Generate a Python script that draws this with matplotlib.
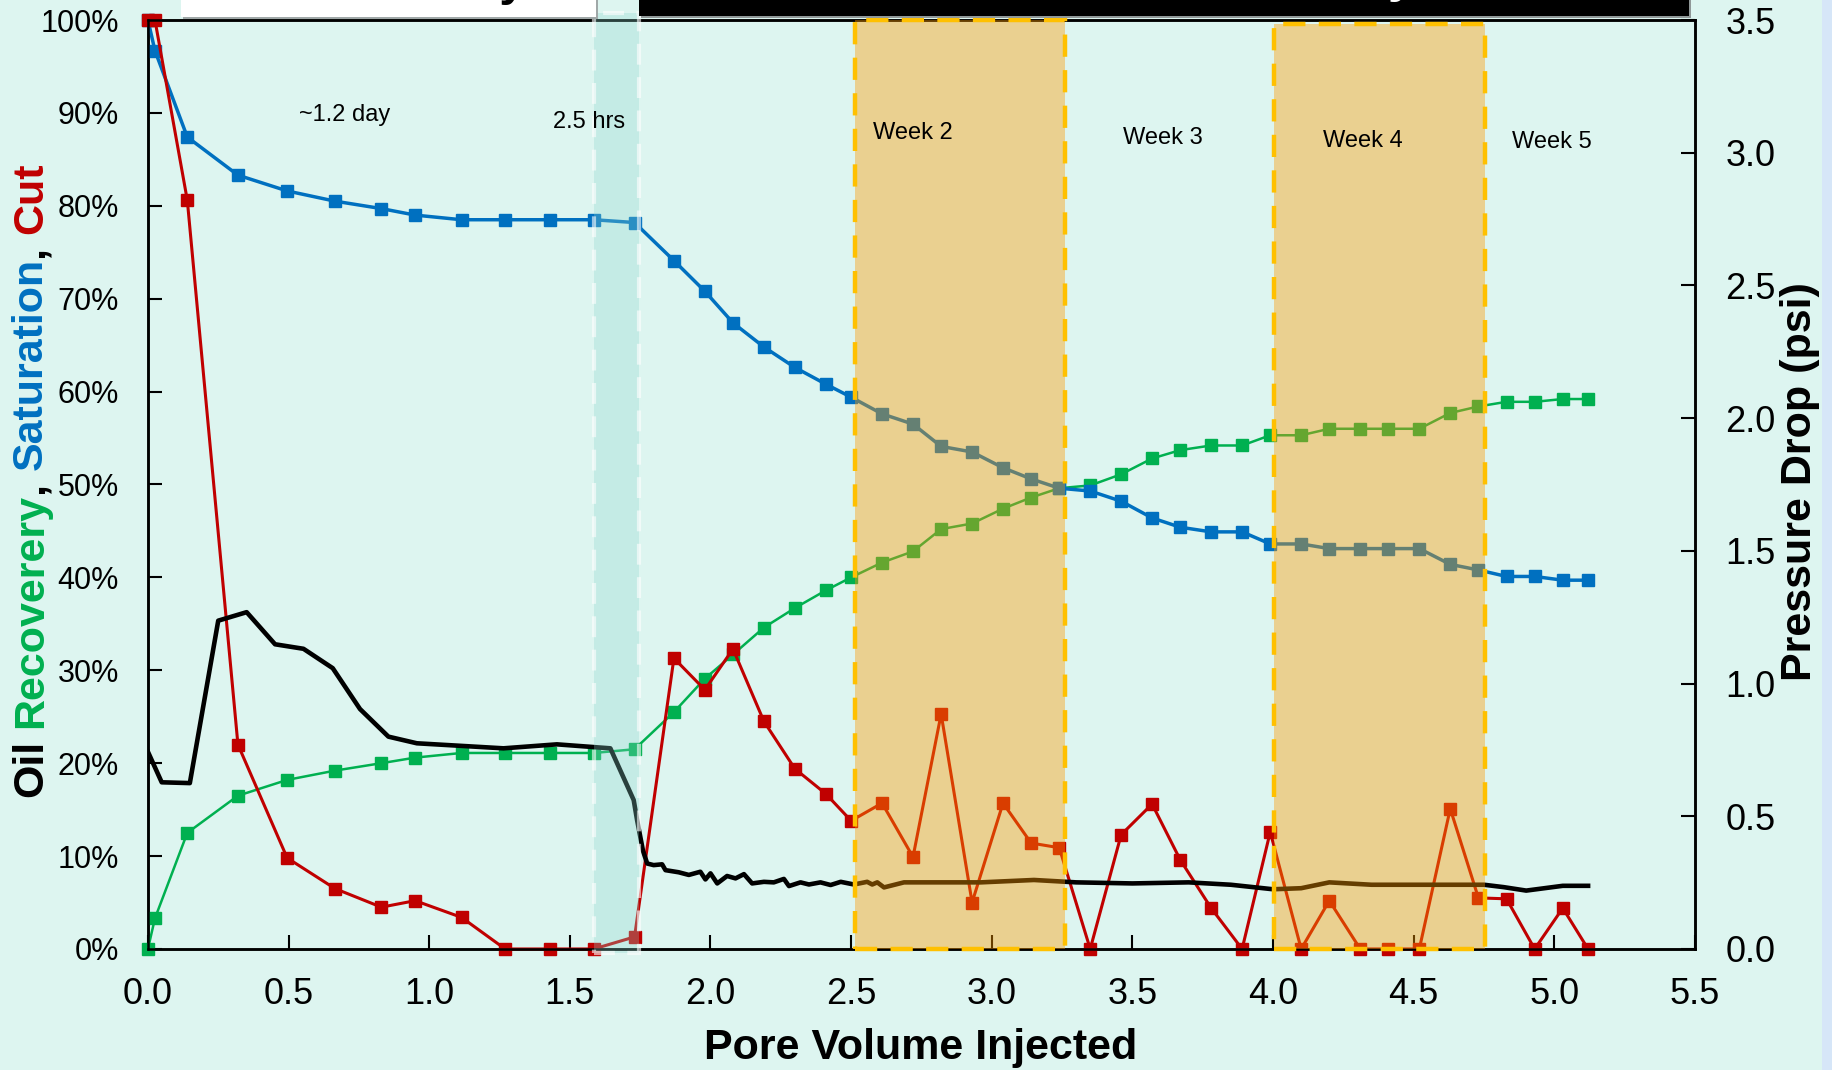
import matplotlib.pyplot as plt
from matplotlib.patches import Rectangle
from matplotlib.ticker import FuncFormatter

plt.rcParams['font.family'] = ['Liberation Sans', 'DejaVu Sans']

# pore volumes injected at each sample
pv = [0.0, 0.025, 0.14, 0.32, 0.495, 0.665, 0.83, 0.95, 1.115, 1.27,
      1.43, 1.585, 1.73, 1.87, 1.98, 2.08, 2.19, 2.30, 2.41, 2.50,
      2.61, 2.72, 2.82, 2.93, 3.04, 3.14, 3.24, 3.35, 3.46, 3.57,
      3.67, 3.78, 3.89, 3.99, 4.10, 4.20, 4.31, 4.41, 4.52, 4.63,
      4.73, 4.83, 4.93, 5.03, 5.12]

# oil saturation (%)
saturation = [100, 96.7, 87.4, 83.3, 81.6, 80.5, 79.7, 79.0, 78.5, 78.5,
              78.5, 78.5, 78.2, 74.1, 70.8, 67.4, 64.8, 62.6, 60.8, 59.4,
              57.6, 56.5, 54.1, 53.5, 51.8, 50.6, 49.6, 49.3, 48.2, 46.4,
              45.4, 44.9, 44.9, 43.6, 43.6, 43.1, 43.1, 43.1, 43.1, 41.4,
              40.8, 40.1, 40.1, 39.7, 39.7]

# oil recovery (%)
recovery = [0, 3.3, 12.5, 16.5, 18.2, 19.2, 20.0, 20.6, 21.1, 21.1,
            21.1, 21.1, 21.5, 25.5, 29.1, 31.7, 34.6, 36.7, 38.6, 40.0,
            41.6, 42.8, 45.2, 45.8, 47.4, 48.6, 49.6, 49.9, 51.1, 52.8,
            53.7, 54.2, 54.2, 55.3, 55.3, 56.0, 56.0, 56.0, 56.0, 57.7,
            58.4, 58.9, 58.9, 59.2, 59.2]

# oil cut (%)
cut = [100, 100, 80.6, 22.0, 9.8, 6.5, 4.5, 5.2, 3.4, 0,
       0, 0, 1.3, 31.3, 27.9, 32.3, 24.5, 19.4, 16.7, 13.8,
       15.7, 9.9, 25.3, 5.0, 15.7, 11.4, 10.9, 0, 12.3, 15.6,
       9.6, 4.4, 0, 12.6, 0, 5.2, 0, 0, 0, 15.1,
       5.5, 5.4, 0, 4.4, 0]

# pressure drop trace (psi)
dp_pv = [0.0, 0.049, 0.149, 0.250, 0.351, 0.452, 0.553, 0.657, 0.754, 0.855,
         0.956, 1.264, 1.454, 1.644, 1.727, 1.739, 1.760, 1.775, 1.798, 1.828,
         1.840, 1.887, 1.923, 1.964, 1.982, 2.000, 2.024, 2.059, 2.089, 2.119,
         2.148, 2.190, 2.225, 2.261, 2.279, 2.320, 2.350, 2.391, 2.427, 2.463,
         2.510, 2.557, 2.575, 2.593, 2.617, 2.688, 2.961, 3.15, 3.30, 3.50,
         3.70, 3.85, 4.00, 4.10, 4.20, 4.35, 4.60, 4.75, 4.82, 4.90,
         5.03, 5.12]
dp = [0.743, 0.628, 0.625, 1.237, 1.269, 1.148, 1.131, 1.058, 0.904, 0.800,
      0.775, 0.756, 0.771, 0.756, 0.561, 0.486, 0.370, 0.322, 0.316, 0.319,
      0.297, 0.289, 0.279, 0.291, 0.262, 0.285, 0.247, 0.275, 0.266, 0.282,
      0.247, 0.253, 0.251, 0.264, 0.237, 0.251, 0.243, 0.251, 0.241, 0.253,
      0.243, 0.253, 0.243, 0.251, 0.232, 0.251, 0.251, 0.260, 0.251, 0.247,
      0.251, 0.242, 0.225, 0.229, 0.251, 0.242, 0.242, 0.242, 0.233, 0.220,
      0.238, 0.238]

# shaded periods
week_spans = [(2.512, 3.26), (4.005, 4.755)]
flush_span = (1.585, 1.747)

xticks = [0.0, 0.5, 1.0, 1.5, 2.0, 2.5, 3.0, 3.5, 4.0, 4.5, 5.0, 5.5]
yticks = [0, 10, 20, 30, 40, 50, 60, 70, 80, 90, 100]
dp_ticks = [0.0, 0.5, 1.0, 1.5, 2.0, 2.5, 3.0, 3.5]

BG = '#DDF5F0'
GREEN = '#00B050'
BLUE = '#0070C0'
RED = '#C00000'
TITLE_FS = 31

fig = plt.figure(figsize=(18.33, 10.70), dpi=100, facecolor=BG)
ax = fig.add_axes([0.0807, 0.1131, 0.8440, 0.8682])
ax.set_facecolor(BG)
ax2 = ax.twinx()

ax.plot(pv, recovery, color=GREEN, lw=1.8, marker='s', ms=8.5, zorder=3, clip_on=False)
ax.plot(pv, saturation, color=BLUE, lw=2.5, marker='s', ms=8.5, zorder=3, clip_on=False)
ax.plot(pv, cut, color=RED, lw=2.2, marker='s', ms=8.5, zorder=4, clip_on=False)
ax2.plot(dp_pv, dp, color='black', lw=3.3, zorder=2)

ax.set_xlim(0, 5.5)
ax.set_ylim(0, 100)
ax2.set_ylim(0, 3.5)
ax.set_xticks(xticks)
ax.set_xticklabels([f'{v:.1f}' for v in xticks])
ax.set_yticks(yticks)
ax.yaxis.set_major_formatter(FuncFormatter(lambda v, p: f'{v:.0f}%'))
ax2.set_yticks(dp_ticks)
ax2.set_yticklabels([f'{v:.1f}' for v in dp_ticks])

ax.tick_params(axis='x', direction='in', length=10, width=1.5, labelsize=26, pad=20)
ax.tick_params(axis='y', direction='in', length=10, width=1.5, labelsize=22, pad=21)
ax2.tick_params(axis='y', direction='in', length=10, width=1.5, labelsize=26, pad=22)
for a in (ax, ax2):
    for s in a.spines.values():
        s.set_linewidth(1.8)

# overlays drawn on top of all the curves
tr = ax2.get_xaxis_transform()
for (x0, x1), top in zip(week_spans, [1.0, 0.996]):
    ax2.add_patch(Rectangle((x0, 0), x1 - x0, top, transform=tr,
                            facecolor=(1.0, 0.6, 0.0, 0.4), edgecolor='none', zorder=5))
    ax2.add_patch(Rectangle((x0, 0), x1 - x0, top, transform=tr, facecolor='none',
                            edgecolor='#FFC000', lw=3.2, ls=(0, (5, 3)), zorder=6, clip_on=False))
f0, f1 = flush_span
ax2.add_patch(Rectangle((f0, -0.004), f1 - f0, 1.012, transform=tr,
                        facecolor=(0.55, 0.84, 0.80, 0.3), edgecolor='none', zorder=5, clip_on=False))
ax2.add_patch(Rectangle((f0, -0.004), f1 - f0, 1.012, transform=tr, facecolor='none',
                        edgecolor=(1, 1, 1, 0.6), lw=3, ls=(0, (5, 3)), zorder=6, clip_on=False))

# period labels
labels = [(0.70, 89.8, '~1.2 day'), (1.57, 89.0, '2.5 hrs'), (2.72, 87.8, 'Week 2'),
          (3.61, 87.3, 'Week 3'), (4.32, 87.0, 'Week 4'), (4.99, 86.9, 'Week 5')]
for x, y, s in labels:
    ax2.text(x, y, s, transform=ax.transData, ha='center', va='center',
             fontsize=17, zorder=7)

# axis titles
fig.text(0.5025, 0.021, 'Pore Volume Injected', ha='center', va='center',
         fontsize=TITLE_FS, fontweight='bold')
fig.text(0.982, 0.5495, 'Pressure Drop (psi)', rotation=90, ha='center', va='center',
         fontsize=TITLE_FS, fontweight='bold')

# multi-coloured left title, stacked piece by piece
fig.canvas.draw()
renderer = fig.canvas.get_renderer()
space = 0.278 * TITLE_FS * 100 / 72 / fig.bbox.height
pieces = [('Oil', 'black', space), ('Recoverery', GREEN, 0), (',', 'black', space),
          ('Saturation', BLUE, 0), (',', 'black', space), ('Cut', RED, 0)]
y = 0.255
for s, c, gap in pieces:
    t = fig.text(0.017, y, s, rotation=90, color=c, ha='center', va='bottom',
                 fontsize=TITLE_FS, fontweight='bold')
    bb = t.get_window_extent(renderer=renderer)
    y += bb.height / fig.bbox.height + gap

# cropped title boxes along the top edge
H = 1070.0
W = 1833.0
fig.patches.append(Rectangle((183 / W, 1 - 19 / H), 415 / W, 19 / H, transform=fig.transFigure,
                             facecolor='#A0A8A8', edgecolor='none', zorder=1))
fig.patches.append(Rectangle((181 / W, 1 - 17 / H), 415 / W, 17 / H, transform=fig.transFigure,
                             facecolor='white', edgecolor='none', zorder=2))
fig.patches.append(Rectangle((641 / W, 1 - 18 / H), 1050 / W, 18 / H, transform=fig.transFigure,
                             facecolor='#909898', edgecolor='none', zorder=1))
fig.patches.append(Rectangle((639 / W, 1 - 16 / H), 1050 / W, 16 / H, transform=fig.transFigure,
                             facecolor='black', edgecolor='none', zorder=2))
fig.text(403 / W, 1 + 5 / H, 'Secondary', ha='center', va='baseline',
         fontsize=35, fontweight='bold', color='black', zorder=3)
fig.text(1415 / W, 1 + 8 / H, 'Enhanced Recovery', ha='right', va='baseline',
         fontsize=35, fontweight='bold', color='white', zorder=3)

# bluish strip at the right edge
fig.patches.append(Rectangle((1822 / W, 0), 11 / W, 1, transform=fig.transFigure,
                             facecolor='#D6E6F8', edgecolor='none', zorder=0))

fig.savefig('out.png', dpi=100, facecolor=BG)
